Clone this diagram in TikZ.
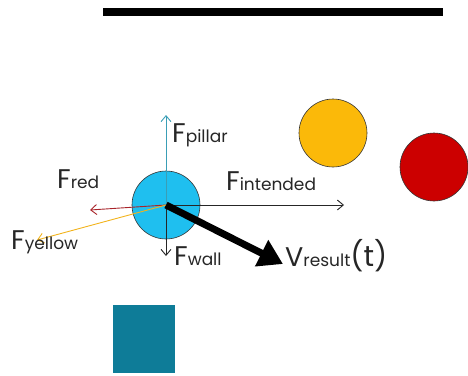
\documentclass[tikz,border=0pt]{standalone}
\usepackage{fontspec}
\setmainfont{Poppins}
\usepackage{xcolor}
\usetikzlibrary{arrows.meta}

\definecolor{ballblue}{HTML}{1FBFEF}
\definecolor{ballyellow}{HTML}{FBB909}
\definecolor{ballred}{HTML}{CC0000}
\definecolor{pillarteal}{HTML}{0E7C98}
\definecolor{arrteal}{HTML}{3A9EB6}
\definecolor{arrred}{HTML}{A8242A}
\definecolor{arryellow}{HTML}{F2B31C}

\newcommand{\force}[2]{{\fontsize{27}{27}\selectfont #1}{\fontsize{17}{17}\selectfont #2}}

\begin{document}
\begin{tikzpicture}[
    x=1pt, y=-1pt,
    every node/.style={text=black!85, inner sep=0pt},
    ball/.style={circle, draw=black!80, semithick, minimum size=68pt},
    farr/.style={-{Straight Barb[length=6pt,width=10pt]}, line width=0.9pt},
    varr/.style={-{Triangle[length=24pt,width=28pt]}, line width=7pt}
]
\useasboundingbox (0,0) rectangle (468,375);

% wall and pillar
\fill[black] (103,8) rectangle (443,16);
\fill[pillarteal] (113,305) rectangle (175,373);

% balls
\node[ball, fill=ballblue]   (blue)   at (166,205) {};
\node[ball, fill=ballyellow] (yellow) at (333,133) {};
\node[ball, fill=ballred]    (red)    at (434,167) {};

% arrow ends
\coordinate (pillarend)   at (166,115);
\coordinate (redend)      at (90,210);
\coordinate (yellowend)   at (37,240);
\coordinate (wallend)     at (166,256);
\coordinate (intendedend) at (344,205);
\coordinate (resultend)   at (283,264);

\draw[farr, arrteal]    (blue.center) -- (pillarend);
\draw[farr, arrred]     (blue.center) -- (redend);
\draw[farr, black!85]   (blue.center) -- (wallend);
\draw[farr, black!85]   (blue.center) -- (intendedend);
\draw[farr, arryellow]  (blue.center) -- (yellowend);
\draw[varr]             (blue.center) -- (resultend);

% labels
\node[anchor=base west] (lpillar)   at (172,142) {\force{F}{pillar}};
\node[anchor=base west] (lred)      at (57,188)  {\force{F}{red}};
\node[anchor=base west] (lyellow)   at (11,249)  {\force{F}{yellow}};
\node[anchor=base west] (lwall)     at (174,265) {\force{F}{wall}};
\node[anchor=base west] (lintended) at (226,190) {\force{F}{intended}};
\node[anchor=base west] (lresult)   at (285,266) {\force{V}{result}{\fontsize{29}{29}\selectfont (t)}};
\end{tikzpicture}
\end{document}
